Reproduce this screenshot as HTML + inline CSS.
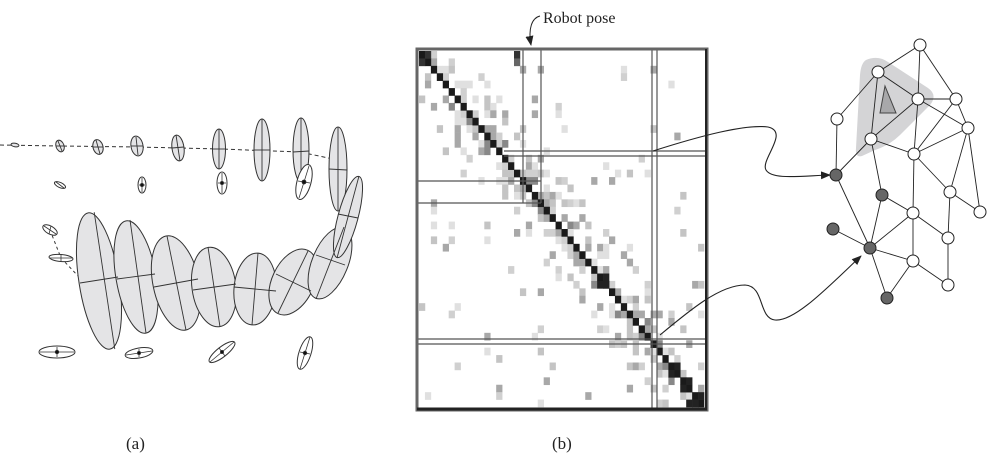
<!DOCTYPE html>
<html><head><meta charset="utf-8"><style>
html,body{margin:0;padding:0;background:#fff;}
svg{display:block}
text{font-family:"Liberation Serif",serif;}
</style></head><body>
<svg id="s" width="987" height="474" viewBox="0 0 987 474" xmlns="http://www.w3.org/2000/svg">
<defs>
<marker id="ar" markerWidth="10" markerHeight="8" refX="9" refY="4" orient="auto" markerUnits="userSpaceOnUse"><path d="M0,0 L10,4 L0,8 Z" fill="#222"/></marker>
</defs>
<g stroke="#333" stroke-width="1" fill="none">
<path d="M0,145 L60,146 L138,147 L220,149 L300,152 L338,160" stroke-dasharray="4,3"/>
<path d="M50,230 L61,258 L80,278" stroke-dasharray="3,3"/>
</g>
<g stroke="#333" stroke-width="1" fill="#e4e4e6">
<ellipse cx="15" cy="145" rx="4" ry="1.8" transform="rotate(10 15 145)"/>
<ellipse cx="60" cy="146" rx="4" ry="6" transform="rotate(-20 60 146)"/>
<ellipse cx="98" cy="147" rx="5" ry="7.5" transform="rotate(-15 98 147)"/>
<ellipse cx="137" cy="146" rx="6" ry="10" transform="rotate(-10 137 146)"/>
<ellipse cx="178" cy="148" rx="6" ry="13" transform="rotate(-8 178 148)"/>
<ellipse cx="219" cy="149" rx="6.5" ry="20"/>
<ellipse cx="262" cy="150" rx="8" ry="31"/>
<ellipse cx="301" cy="150" rx="8" ry="32"/>
<ellipse cx="338" cy="169" rx="9" ry="42"/>
<ellipse cx="99" cy="281" rx="20" ry="69" transform="rotate(-9 99 281)"/>
<ellipse cx="136" cy="277" rx="20" ry="57" transform="rotate(-10 136 277)"/>
<ellipse cx="176" cy="283" rx="23" ry="48" transform="rotate(-12 176 283)"/>
<ellipse cx="214" cy="287" rx="22" ry="40" transform="rotate(-8 214 287)"/>
<ellipse cx="255" cy="289" rx="21" ry="36" transform="rotate(5 255 289)"/>
<ellipse cx="293" cy="282" rx="21" ry="35" transform="rotate(25 293 282)"/>
<ellipse cx="330" cy="263" rx="18" ry="38" transform="rotate(22 330 263)"/>
<ellipse cx="348" cy="217" rx="10" ry="42" transform="rotate(15 348 217)"/>
</g>
<g stroke="#333" stroke-width="0.9">
<line x1="99" y1="212" x2="110" y2="350" transform="rotate(-4 99 281)"/><line x1="80" y1="283" x2="118" y2="277"/>
<line x1="130" y1="220" x2="146" y2="333"/><line x1="117" y1="279" x2="155" y2="274"/>
<line x1="167" y1="236" x2="186" y2="330"/><line x1="154" y1="287" x2="198" y2="279"/>
<line x1="208" y1="247" x2="220" y2="327"/><line x1="193" y1="290" x2="236" y2="284"/>
<line x1="258" y1="253" x2="252" y2="325"/><line x1="234" y1="287" x2="276" y2="291"/>
<line x1="308" y1="251" x2="278" y2="313"/><line x1="276" y1="274" x2="311" y2="291"/>
<line x1="344" y1="227" x2="316" y2="299"/><line x1="316" y1="255" x2="345" y2="265"/>
<line x1="359" y1="176" x2="337" y2="258"/><line x1="338" y1="214" x2="358" y2="218"/>
<line x1="338" y1="127" x2="338" y2="211"/><line x1="329" y1="169" x2="347" y2="170"/>
<line x1="301" y1="118" x2="301" y2="182"/><line x1="293" y1="152" x2="309" y2="151"/>
<line x1="262" y1="119" x2="262" y2="181"/><line x1="254" y1="150" x2="270" y2="150"/>
<line x1="219" y1="129" x2="219" y2="169"/><line x1="213" y1="149" x2="225" y2="149"/>
<line x1="176" y1="135" x2="180" y2="161"/><line x1="172" y1="148" x2="184" y2="147"/>
<line x1="136" y1="137" x2="138" y2="155"/><line x1="131" y1="146" x2="143" y2="146"/>
<line x1="96" y1="140" x2="100" y2="154"/><line x1="93" y1="147" x2="103" y2="147"/>
<line x1="58" y1="141" x2="62" y2="151"/><line x1="56" y1="146" x2="64" y2="146"/>
</g>
<g stroke="#333" stroke-width="1" fill="#fff">
<ellipse cx="60" cy="185" rx="6" ry="2.5" transform="rotate(25 60 185)"/>
<ellipse cx="142" cy="185" rx="4" ry="8"/>
<ellipse cx="222" cy="183" rx="5" ry="11"/>
<ellipse cx="304" cy="182" rx="7" ry="18" transform="rotate(15 304 182)"/>
<ellipse cx="50" cy="230" rx="8" ry="4" transform="rotate(30 50 230)"/>
<ellipse cx="61" cy="258" rx="12" ry="3.5" transform="rotate(5 61 258)"/>
<ellipse cx="57" cy="352" rx="18" ry="6"/>
<ellipse cx="139" cy="353" rx="14" ry="5" transform="rotate(-10 139 353)"/>
<ellipse cx="222" cy="352" rx="16" ry="5" transform="rotate(-38 222 352)"/>
<ellipse cx="305" cy="353" rx="6" ry="17" transform="rotate(18 305 353)"/>
</g>
<g stroke="#333" stroke-width="0.8" fill="#111">
<line x1="142" y1="178" x2="142" y2="192"/><line x1="139" y1="185" x2="145" y2="185"/><circle cx="142" cy="185" r="1.6"/>
<line x1="222" y1="173" x2="222" y2="193"/><line x1="218" y1="183" x2="226" y2="183"/><circle cx="222" cy="183" r="1.6"/>
<line x1="309" y1="166" x2="299" y2="198"/><line x1="298" y1="181" x2="310" y2="183"/><circle cx="304" cy="182" r="2"/>
<line x1="40" y1="352" x2="74" y2="352"/><line x1="57" y1="347" x2="57" y2="357"/><circle cx="57" cy="352" r="1.8"/>
<line x1="126" y1="355" x2="152" y2="351"/><line x1="139" y1="349" x2="139" y2="357"/><circle cx="139" cy="353" r="1.6"/>
<line x1="210" y1="362" x2="234" y2="342"/><line x1="219" y1="348" x2="225" y2="356"/><circle cx="222" cy="352" r="1.6"/>
<line x1="310" y1="337" x2="300" y2="369"/><line x1="300" y1="352" x2="310" y2="354"/><circle cx="305" cy="353" r="1.8"/>
<line x1="44" y1="226" x2="56" y2="234"/><line x1="49" y1="234" x2="51" y2="226"/>
<line x1="50" y1="258" x2="72" y2="258"/><line x1="61" y1="255" x2="61" y2="261"/>
<line x1="56" y1="182" x2="64" y2="188"/>
</g>
<g id="mx"></g>
<g stroke="#555" stroke-width="1.2" fill="none">
<line x1="523" y1="49" x2="523" y2="203"/><line x1="541" y1="49" x2="541" y2="203"/>
<line x1="417" y1="181" x2="541" y2="181"/><line x1="417" y1="203" x2="541" y2="203"/>
<line x1="504" y1="151" x2="707" y2="151"/><line x1="504" y1="156" x2="707" y2="156"/>
<line x1="652" y1="49" x2="652" y2="410"/><line x1="657" y1="49" x2="657" y2="410"/>
<line x1="417" y1="339" x2="707" y2="339"/><line x1="417" y1="344" x2="707" y2="344"/>
</g>
<rect x="417" y="49" width="290" height="361" fill="none" stroke="#666" stroke-width="3"/>
<line x1="417" y1="409" x2="707" y2="409" stroke="#222" stroke-width="3"/>
<line x1="706" y1="49" x2="706" y2="410" stroke="#222" stroke-width="2"/>
<path d="M540,16 C532,18 528,28 531,45" stroke="#222" fill="none" marker-end="url(#ar)"/>
<text x="543" y="23" font-size="16" fill="#222">Robot pose</text>
<path d="M653,151 C700,136 745,124 768,127 C790,132 760,160 766,170 C772,180 800,176 830,175" fill="none" stroke="#222" stroke-width="1.1" marker-end="url(#ar)"/>
<path d="M660,335 C690,310 720,285 745,285 C765,286 758,318 775,320 C795,322 830,285 861,256" fill="none" stroke="#222" stroke-width="1.1" marker-end="url(#ar)"/>
<path d="M866,60 Q878,55 888,62 L928,88 Q938,95 930,105 L900,135 Q890,145 875,150 L862,156 Q855,158 856,148 L860,75 Q861,63 866,60 Z" fill="#d4d4d6"/>
<path d="M885,86 L880,113 L896,113 Z" fill="#a8a8aa" stroke="#444" stroke-width="1"/>
<g stroke="#222" stroke-width="0.9" id="edges"></g>
<g id="nodes" stroke="#222" stroke-width="1"></g>
<text x="126" y="449" font-size="17" fill="#222">(a)</text>
<text x="552" y="449" font-size="17" fill="#222">(b)</text>
</svg>
<script>
var N={A:[920,45],B:[878,72],C:[918,99],D:[956,99],E:[837,119],F:[968,128],G:[871,139],H:[914,154],I:[836,175],J:[882,195],K:[950,192],L:[980,212],M:[913,213],Nn:[833,229],O:[870,248],P:[948,238],Q:[913,261],R:[948,285],S:[887,298]};
var E="A-B A-C A-D B-E B-G B-C C-D C-G C-H D-F C-F H-F H-D G-H E-I I-G G-J I-O J-M J-O H-M H-K F-K F-L K-L K-P M-P M-O M-Q Nn-O O-Q O-S S-Q Q-R P-R".split(" ");
var ns="http://www.w3.org/2000/svg",eg=document.getElementById("edges"),ng=document.getElementById("nodes");
E.forEach(function(e){var p=e.split("-"),a=N[p[0]],b=N[p[1]];var l=document.createElementNS(ns,"line");l.setAttribute("x1",a[0]);l.setAttribute("y1",a[1]);l.setAttribute("x2",b[0]);l.setAttribute("y2",b[1]);eg.appendChild(l);});
var dark={I:1,J:1,Nn:1,O:1,S:1};
for(var k in N){var c=document.createElementNS(ns,"circle");c.setAttribute("cx",N[k][0]);c.setAttribute("cy",N[k][1]);c.setAttribute("r",6);c.setAttribute("fill",dark[k]?"#666":"#fff");ng.appendChild(c);}
var mx=document.getElementById("mx"),n=48,cw=285/n,ch=356/n,x0=419,y0=51,seed=7;
function rnd(){seed=(seed*16807)%2147483647;return seed/2147483647;}
function cell(i,j,col){var r=document.createElementNS(ns,"rect");r.setAttribute("x",x0+j*cw);r.setAttribute("y",y0+i*ch);r.setAttribute("width",cw+0.3);r.setAttribute("height",ch+0.3);r.setAttribute("fill",col);mx.appendChild(r);}
var grays=["#e0e0e0","#d0d0d0","#c4c4c4","#a8a8a8","#888"];
for(var i=0;i<n;i++)for(var j=0;j<n;j++){if(i==j)continue;var d=Math.abs(i-j);var p=d<=2?0.6:(d<8?0.22:0.04);if(rnd()<p){cell(i,j,grays[Math.floor(rnd()*(d<=2?5:4))]);}}
for(var i=0;i<n;i++){cell(i,i,"#1a1a1a");}
cell(0,1,"#333");cell(1,0,"#333");cell(0,16,"#333");cell(1,16,"#666");
[[30,31],[31,30],[31,31],[42,43],[43,42],[44,45],[45,44],[46,47],[47,46],[47,45]].forEach(function(q){cell(q[0],q[1],"#222");});
</script>
</body></html>
